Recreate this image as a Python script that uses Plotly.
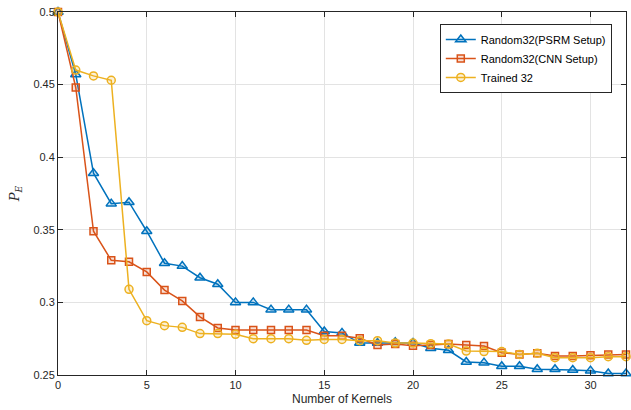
import plotly.graph_objects as go

kernels = list(range(0, 33))
psrm = [0.5, 0.457, 0.389, 0.368, 0.369, 0.349, 0.327, 0.325, 0.317, 0.3125, 0.300, 0.300,
        0.295, 0.295, 0.295, 0.280, 0.279, 0.272, 0.272, 0.2725, 0.272, 0.2685, 0.267,
        0.259, 0.2585, 0.256, 0.256, 0.254, 0.254, 0.2535, 0.253, 0.251, 0.251]
cnn = [0.5, 0.448, 0.349, 0.329, 0.328, 0.321, 0.3085, 0.301, 0.290, 0.2824, 0.281, 0.281,
       0.281, 0.281, 0.281, 0.277, 0.277, 0.2753, 0.2707, 0.2713, 0.2702, 0.2707, 0.2713,
       0.2707, 0.270, 0.2654, 0.2642, 0.265, 0.2631, 0.2631, 0.2636, 0.2642, 0.2642]
trained = [0.5, 0.460, 0.456, 0.453, 0.309, 0.2874, 0.284, 0.2828, 0.2785, 0.2785, 0.278, 0.275,
           0.275, 0.275, 0.2739, 0.2745, 0.2745, 0.2736, 0.2736, 0.272, 0.272, 0.2716, 0.2713,
           0.2665, 0.2661, 0.2661, 0.2642, 0.265, 0.2619, 0.2619, 0.2619, 0.2626, 0.2626]

names = ["Random32(PSRM Setup)", "Random32(CNN Setup)", "Trained 32"]
colors = ["#0072BD", "#D95319", "#EDB120"]
fills = ["rgba(0,114,189,0.18)", "rgba(217,83,25,0.18)", "rgba(237,177,32,0.18)"]
symbols = ["triangle-up", "square", "circle"]
sizes = [9, 7, 8]

fig = go.Figure()
for y, n, c, f, s, sz in zip([psrm, cnn, trained], names, colors, fills, symbols, sizes):
    fig.add_trace(go.Scatter(
        x=kernels, y=y, name=n, mode="lines+markers", cliponaxis=False,
        line=dict(color=c, width=1.5),
        marker=dict(symbol=s, size=sz, color=f, line=dict(width=1.5, color=c)),
    ))

axis_common = dict(
    showline=True, linecolor="#262626", linewidth=1, mirror="ticks",
    ticks="inside", ticklen=5, tickcolor="#262626",
    showgrid=True, gridcolor="#e3e3e3", gridwidth=1,
    zeroline=False, tickfont=dict(size=11, color="#262626"),
)

fig.update_layout(
    width=631, height=410,
    margin=dict(l=58, r=5, t=12, b=35, autoexpand=False),
    paper_bgcolor="white", plot_bgcolor="white",
    font=dict(family="Liberation Sans, Arial, sans-serif", color="#262626"),
    xaxis=dict(range=[0, 32], tickvals=[0, 5, 10, 15, 20, 25, 30],
               title=dict(text="Number of Kernels", font=dict(size=12), standoff=4),
               **axis_common),
    yaxis=dict(range=[0.25, 0.5], tickvals=[0.25, 0.3, 0.35, 0.4, 0.45, 0.5],
               ticktext=["0.25", "0.3", "0.35", "0.4", "0.45", "0.5"],
               title=dict(text="<i>P</i><sub><i>E</i></sub>",
                          font=dict(size=13, family="DejaVu Serif, serif"), standoff=10),
               **axis_common),
    legend=dict(x=0.975, y=0.967, xanchor="right", yanchor="top",
                bgcolor="white", bordercolor="#262626", borderwidth=1,
                font=dict(size=11, color="black"), tracegroupgap=0,
                itemwidth=30),
    showlegend=True,
)

fig.write_html("out.html", config={"displayModeBar": False},
               post_script="document.body.style.margin='0';document.body.style.padding='0';")
